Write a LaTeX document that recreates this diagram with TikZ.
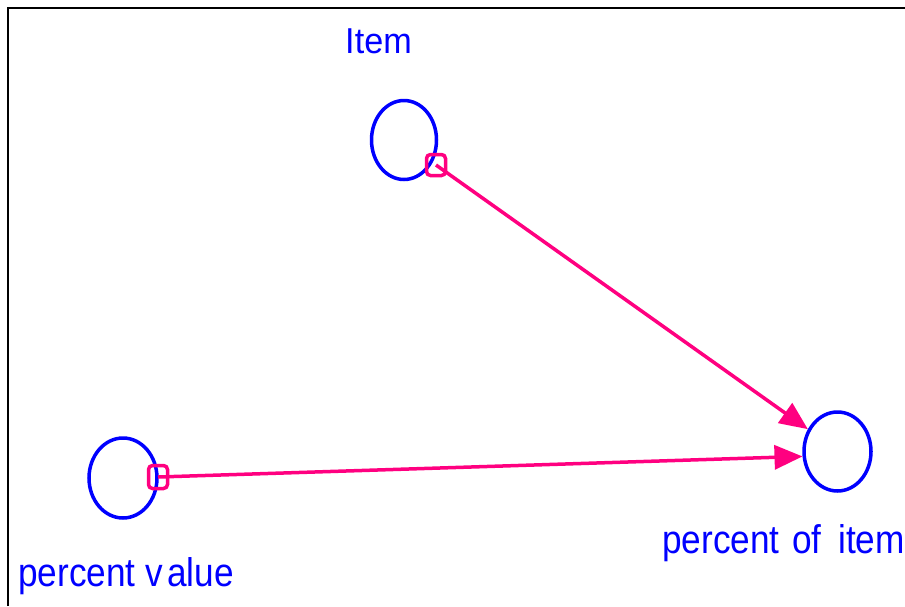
\documentclass[tikz,border=0pt]{standalone}
\usepackage{fontspec}
\setmainfont{Liberation Sans}
\usetikzlibrary{arrows.meta,shapes.geometric}
\definecolor{lblue}{RGB}{0,0,255}
\definecolor{lpink}{RGB}{255,0,128}
\tikzset{
  var/.style={ellipse, draw=lblue, line width=3.5pt, minimum width=#1, inner sep=0pt},
  lbl/.style={text=lblue, inner sep=0pt, anchor=base},
  marker/.style={draw=lpink, line width=3.5pt, rounded corners=4pt, minimum width=19pt, minimum height=21pt, inner sep=0pt},
  link/.style={draw=lpink, line width=3.5pt, -{Triangle[length=28pt,width=24pt]}}
}
\newcommand{\myvarlabel}[1]{\fontsize{40}{46}\selectfont\scalebox{0.88}[1]{#1}}
\begin{document}
\begin{tikzpicture}[x=1pt,y=-1pt]
\useasboundingbox (0,0) rectangle (905,606);
\draw[line width=2pt] (8,606) -- (8,8) -- (906,8);
\node[var=65pt, minimum height=79pt] (item) at (404,140) {};
\node[var=67pt, minimum height=79pt] (poi) at (837.5,451.5) {};
\node[var=68pt, minimum height=80pt] (pv) at (123,478) {};
\node[lbl] (litem) at (378.5,53) {\fontsize{36}{42}\selectfont\scalebox{0.95}[1]{Item}};
\node[lbl] (lpoi) at (783.5,553) {\myvarlabel{percent\hspace{0.08em} of\hspace{0.2em} item}};
\node[lbl] (lpv) at (126,586) {\myvarlabel{percent v\hspace{0.12em}alue}};
\node[marker] (m1) at (436,165) {};
\node[marker, minimum height=23pt] (m2) at (158,477) {};
\draw[link] (m1.center) -- (poi.143);
\draw[link] (m2.center) -- (poi.188);
\end{tikzpicture}
\end{document}
